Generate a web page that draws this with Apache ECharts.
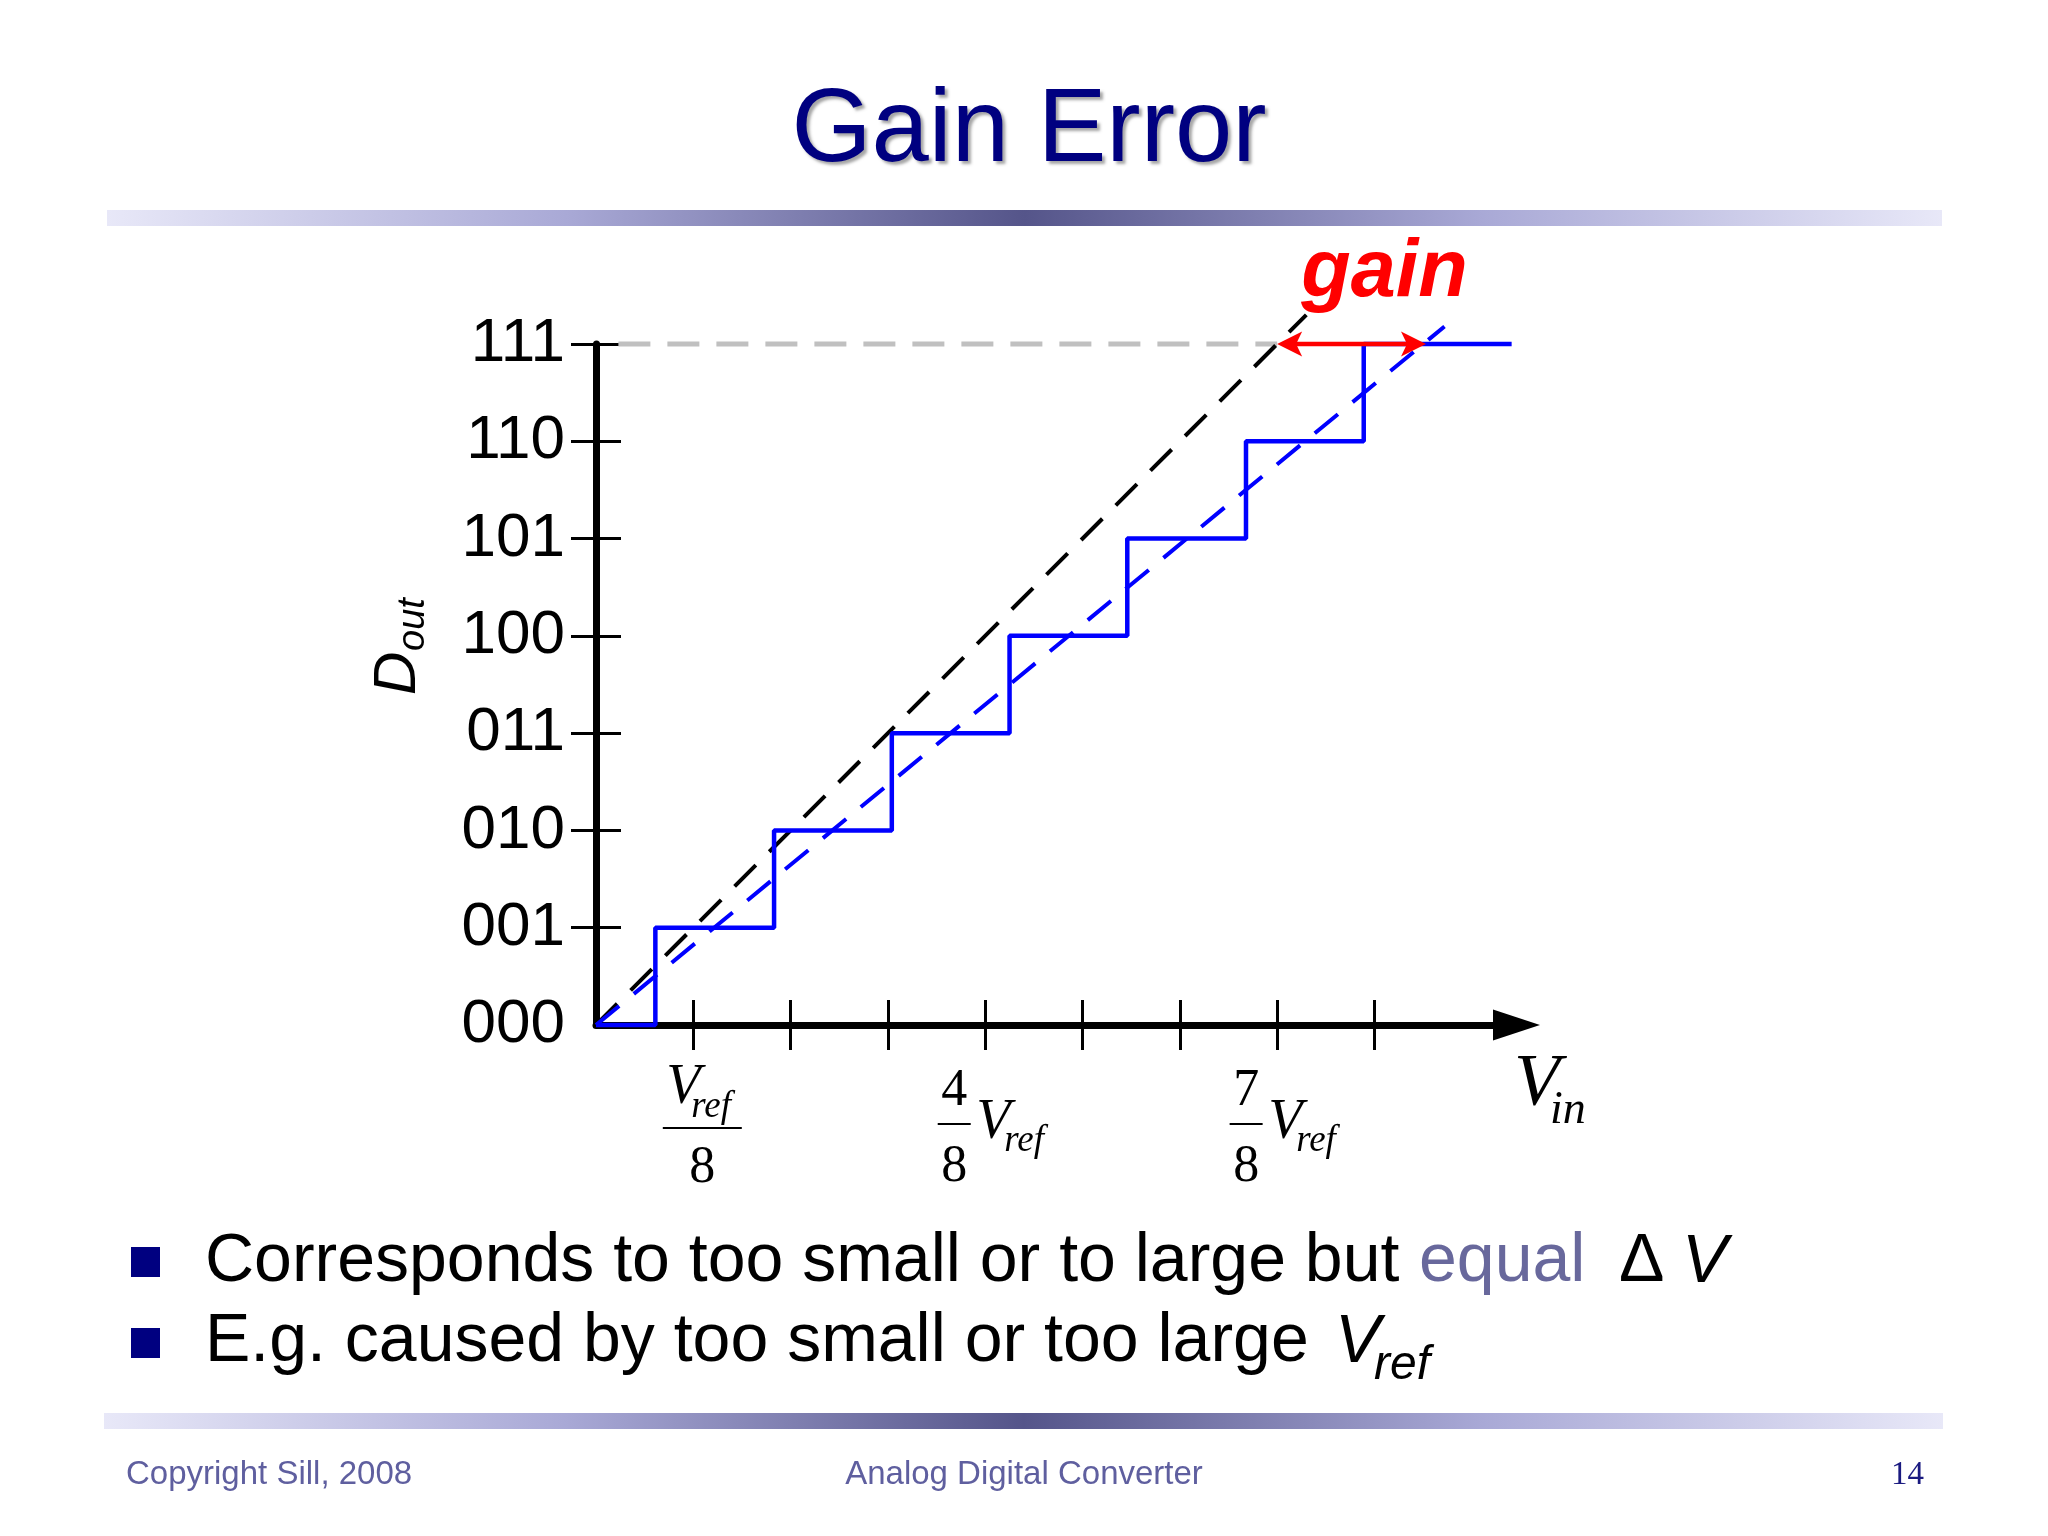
<!DOCTYPE html>
<html><head><meta charset="utf-8">
<script src="https://cdn.jsdelivr.net/npm/echarts@6/dist/echarts.min.js"></script>
<style>html,body{margin:0;padding:0;background:#fff}#c{width:2048px;height:1536px}</style>
</head><body><div id="c"></div>
<script>
// ---- data ----
const codeLabels = ['000', '001', '010', '011', '100', '101', '110', '111'];
const codeLabelValues = [0, 1, 2, 3, 4, 5, 6, 7];
const codeTickValues = [1, 2, 3, 4, 5, 6, 7];
const vinTickValues = [1, 2, 3, 4, 5, 6, 7, 8];
const stairX = [0, 0.61, 1.83, 3.04, 4.25, 5.46, 6.68, 7.89, 9.41];
const stairCode = [0, 1, 2, 3, 4, 5, 6, 7, 7];
const idealX = [0, 7.3];
const idealY = [0, 7.3];
const gainLineX = [0, 8.72];
const gainLineY = [0, 7.18];
const fullScaleX = [0.23, 7.0];
const fullScaleY = [7, 7];
const gainArrowX = [7.0, 8.53];
const gainArrowY = [7, 7];
const xLabelValues = [1, 4, 7];
const xLabelNumerators = ['V', '4', '7'];
const xLabelDenominators = ['8', '8', '8'];

const SANS = '"Liberation Sans", Arial, sans-serif';
const SERIF = '"Liberation Serif", "Times New Roman", serif';

function pairs(xs, ys) { return xs.map((x, i) => [x, ys[i]]); }

// text placed by its baseline
function bt(x, base, text, fs, o) {
  o = o || {};
  const ff = o.ff || SANS;
  const k = ff === SERIF ? 0.26 : 0.285;
  return {
    type: 'text', x: x, y: base - k * fs, z: 10,
    style: {
      text: text, fontSize: fs, fontFamily: ff,
      fontStyle: o.fst || 'normal', fontWeight: o.fw || 'normal',
      fill: o.fill || '#000', align: o.align || 'left', verticalAlign: 'middle',
      textShadowColor: o.shc, textShadowBlur: o.shb || 0,
      textShadowOffsetX: o.shx || 0, textShadowOffsetY: o.shy || 0
    }
  };
}
function ctext(x, base, text, fs, fst, align, ff, fw, fill) {
  ff = ff || SERIF;
  const k = ff === SERIF ? 0.26 : 0.285;
  return {
    type: 'text',
    style: {
      x: x, y: base - k * fs, text: text, fontSize: fs, fontFamily: ff,
      fontStyle: fst || 'normal', fontWeight: fw || 'normal', fill: fill || '#000',
      align: align || 'left', verticalAlign: 'middle'
    }
  };
}

const barGrad = () => new echarts.graphic.LinearGradient(0, 0, 1, 0, [
  { offset: 0, color: '#e8e8f8' }, { offset: 0.25, color: '#a9a9d6' },
  { offset: 0.5, color: '#55558a' }, { offset: 0.75, color: '#a9a9d6' },
  { offset: 1, color: '#e8e8f8' }
]);

const chart = echarts.init(document.getElementById('c'), null, { renderer: 'canvas' });

const option = {
  backgroundColor: '#ffffff',
  animation: false,
  grid: { left: 596, top: 344, width: 920.5, height: 681, containLabel: false },
  xAxis: [
    {
      type: 'value', min: 0, max: 9.46, position: 'bottom',
      axisLine: { show: true, onZero: false, lineStyle: { color: '#000', width: 7 },
        symbol: ['none', 'triangle'], symbolSize: [31, 47] },
      axisTick: { show: true, customValues: vinTickValues, length: 25, inside: false,
        lineStyle: { color: '#000', width: 3 } },
      axisLabel: { show: false }, splitLine: { show: false }
    },
    {
      type: 'value', min: 0, max: 9.46, position: 'bottom', offset: 0,
      axisLine: { show: false, onZero: false },
      axisTick: { show: true, customValues: vinTickValues, length: 25, inside: true,
        lineStyle: { color: '#000', width: 3 } },
      axisLabel: { show: false }, splitLine: { show: false }
    }
  ],
  yAxis: [
    {
      type: 'value', min: 0, max: 7, interval: 1, position: 'left',
      axisLine: { show: true, onZero: false, lineStyle: { color: '#000', width: 7 } },
      axisTick: { show: true, customValues: codeTickValues, length: 25, inside: false,
        lineStyle: { color: '#000', width: 3 } },
      axisLabel: { show: true, customValues: codeLabelValues, margin: 31,
        formatter: v => codeLabels[Math.round(v)], fontSize: 62, fontFamily: SANS, color: '#000',
        padding: [5, 0, 0, 0] },
      splitLine: { show: false }
    },
    {
      type: 'value', min: 0, max: 7, interval: 1, position: 'left', offset: 0,
      axisLine: { show: false, onZero: false },
      axisTick: { show: true, customValues: codeTickValues, length: 25, inside: true,
        lineStyle: { color: '#000', width: 3 } },
      axisLabel: { show: false }, splitLine: { show: false }
    }
  ],
  series: [
    {
      name: 'full scale', type: 'line', data: pairs(fullScaleX, fullScaleY), clip: false,
      symbol: 'none', z: 2,
      lineStyle: { color: '#c0c0c0', width: 5, type: [32, 17] }
    },
    {
      name: 'ideal', type: 'line', data: pairs(idealX, idealY), clip: false,
      symbol: 'none', z: 3,
      lineStyle: { color: '#000000', width: 4, type: [30, 19] }
    },
    {
      name: 'gain error line', type: 'line', data: pairs(gainLineX, gainLineY), clip: false,
      symbol: 'none', z: 3,
      lineStyle: { color: '#0000ff', width: 4, type: [30, 19] }
    },
    {
      name: 'transfer', type: 'line', step: 'end', data: pairs(stairX, stairCode), clip: false,
      symbol: 'none', z: 4,
      lineStyle: { color: '#0000ff', width: 4.5 }
    },
    {
      name: 'gain arrow', type: 'custom', clip: false, z: 6,
      data: [[gainArrowX[0], gainArrowX[1], gainArrowY[0]]],
      encode: { x: [0, 1], y: 2 },
      renderItem: function (params, api) {
        const p1 = api.coord([api.value(0), api.value(2)]);
        const p2 = api.coord([api.value(1), api.value(2)]);
        const y = p1[1], L = 25, H = 12.5, N = 6;
        const red = '#ff0000';
        return {
          type: 'group', children: [
            { type: 'line', shape: { x1: p1[0] + 15, y1: y, x2: p2[0] - 15, y2: y },
              style: { stroke: red, lineWidth: 4.5 } },
            { type: 'polygon', shape: { points: [[p1[0], y], [p1[0] + L, y - H], [p1[0] + L - N, y], [p1[0] + L, y + H]] },
              style: { fill: red } },
            { type: 'polygon', shape: { points: [[p2[0], y], [p2[0] - L, y - H], [p2[0] - L + N, y], [p2[0] - L, y + H]] },
              style: { fill: red } },
            ctext((p1[0] + p2[0]) / 2 + 33, y - 47, 'gain', 81, 'italic', 'center', SANS, 'bold', red)
          ]
        };
      }
    },
    {
      name: 'x labels', type: 'custom', clip: false, z: 6,
      data: xLabelValues.map(v => [v, 0]),
      encode: { x: 0, y: 1 },
      renderItem: function (params, api) {
        const i = params.dataIndex;
        const p = api.coord([api.value(0), api.value(1)]);
        const x = p[0], y = p[1];
        const ch = [];
        if (i === 0) {
          ch.push(ctext(x - 27, y + 78, xLabelNumerators[i], 56, 'italic', 'left'));
          ch.push(ctext(x - 2, y + 92, 'ref', 37, 'italic', 'left'));
          ch.push({ type: 'line', shape: { x1: x - 30.5, y1: y + 103, x2: x + 48.5, y2: y + 103 },
            style: { stroke: '#000', lineWidth: 2 } });
          ch.push(ctext(x + 9, y + 157, xLabelDenominators[i], 52, 'normal', 'center'));
        } else {
          ch.push(ctext(x - 31, y + 80, xLabelNumerators[i], 52, 'normal', 'center'));
          ch.push({ type: 'line', shape: { x1: x - 47.5, y1: y + 99, x2: x - 14.5, y2: y + 99 },
            style: { stroke: '#000', lineWidth: 2 } });
          ch.push(ctext(x - 31, y + 156, xLabelDenominators[i], 52, 'normal', 'center'));
          ch.push(ctext(x - 9, y + 113, 'V', 56, 'italic', 'left'));
          ch.push(ctext(x + 19, y + 126, 'ref', 37, 'italic', 'left'));
        }
        return { type: 'group', children: ch };
      }
    }
  ],
  graphic: [
    bt(1029, 162, 'Gain Error', 103, { fill: '#000080', align: 'center', shc: 'rgba(0,0,0,0.35)', shb: 3, shx: 3, shy: 3 }),
    { type: 'rect', shape: { x: 107, y: 210, width: 1835, height: 16 }, style: { fill: barGrad() } },
    { type: 'rect', shape: { x: 104, y: 1413, width: 1839, height: 16 }, style: { fill: barGrad() } },
    // y-axis name D_out (rotated)
    { type: 'text', x: 398, y: 695, rotation: Math.PI / 2, z: 10,
      style: { text: 'D', fontSize: 60, fontFamily: SANS, fontStyle: 'italic', fill: '#000', align: 'left', verticalAlign: 'middle' } },
    { type: 'text', x: 413, y: 651, rotation: Math.PI / 2, z: 10,
      style: { text: 'out', fontSize: 38, fontFamily: SANS, fontStyle: 'italic', fill: '#000', align: 'left', verticalAlign: 'middle' } },
    // x-axis name V_in
    bt(1514, 1105, 'V', 75, { ff: SERIF, fst: 'italic' }),
    bt(1550, 1123, 'in', 46, { ff: SERIF, fst: 'italic' }),
    // bullets
    { type: 'rect', shape: { x: 131, y: 1247, width: 29, height: 30 }, style: { fill: '#000080' } },
    { type: 'rect', shape: { x: 131, y: 1328, width: 29, height: 30 }, style: { fill: '#000080' } },
    bt(205, 1282, 'Corresponds to too small or to large but', 68),
    bt(1419, 1282, 'equal', 68, { fill: '#68689c' }),
    bt(1619, 1282, 'Δ', 68),
    bt(1682, 1282, 'V', 68, { fst: 'italic' }),
    bt(205, 1362, 'E.g. caused by too small or too large', 68),
    bt(1335, 1362, 'V', 68, { fst: 'italic' }),
    bt(1374, 1379, 'ref', 48, { fst: 'italic' }),
    // footer
    bt(126, 1484, 'Copyright Sill, 2008', 33, { fill: '#5f5f9f' }),
    bt(1024, 1484, 'Analog Digital Converter', 33, { fill: '#5f5f9f', align: 'center' }),
    bt(1924, 1484, '14', 33, { ff: SERIF, fill: '#1a1a80', align: 'right' })
  ]
};
chart.setOption(option);
</script>
</body></html>
